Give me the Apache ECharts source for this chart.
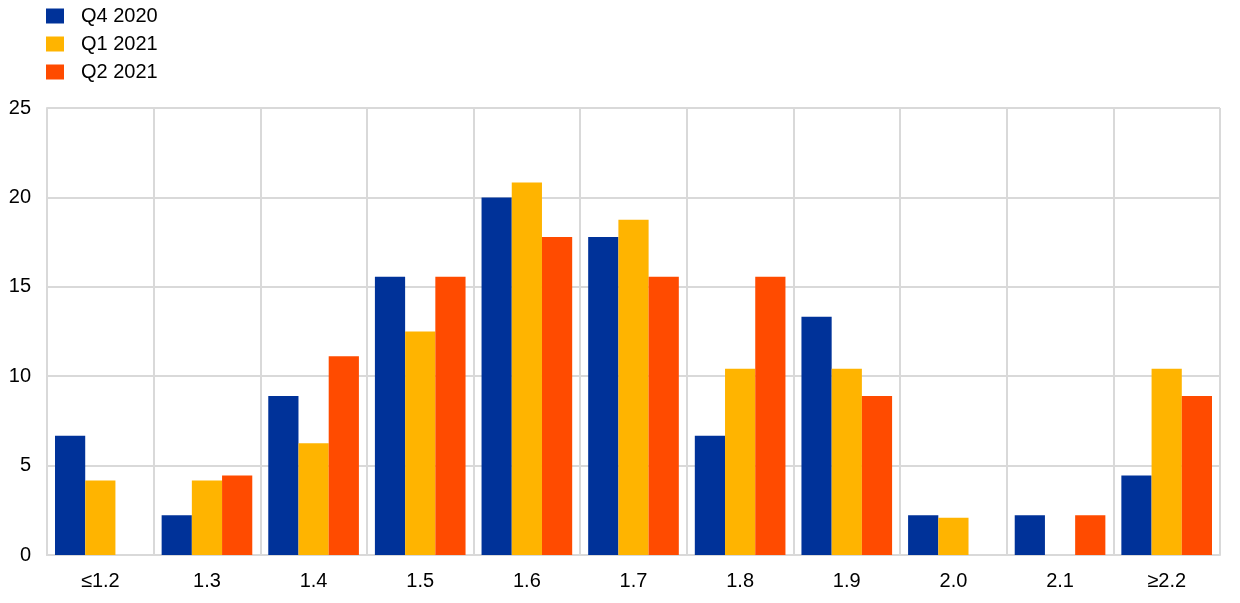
<!DOCTYPE html>
<html>
<head>
<meta charset="utf-8">
<script src="https://cdn.jsdelivr.net/npm/echarts@6/dist/echarts.min.js"></script>
<style>html,body{margin:0;padding:0;background:#fff}#c{width:1240px;height:603px}</style>
</head>
<body>
<div id="c"></div>
<script>
const categories = ['≤1.2','1.3','1.4','1.5','1.6','1.7','1.8','1.9','2.0','2.1','≥2.2'];
const seriesNames = ['Q4 2020','Q1 2021','Q2 2021'];
const q4_2020 = [6.67, 2.22, 8.89, 15.56, 20.00, 17.78, 6.67, 13.33, 2.22, 2.22, 4.44];
const q1_2021 = [4.17, 4.17, 6.25, 12.50, 20.83, 18.75, 10.42, 10.42, 2.08, 0, 10.42];
const q2_2021 = [0, 4.44, 11.11, 15.56, 17.78, 15.56, 15.56, 8.89, 0, 2.22, 8.89];
const yTicks = [0, 5, 10, 15, 20, 25];
const colors = ['#003299', '#FFB400', '#FF4B00'];
const font = 'Liberation Sans, Arial, sans-serif';
const chart = echarts.init(document.getElementById('c'));
const data = [q4_2020, q1_2021, q2_2021];
chart.setOption({
  animation: false,
  textStyle: {fontFamily: font},
  legend: {
    orient: 'vertical', left: 41, top: 1,
    itemWidth: 18, itemHeight: 15, itemGap: 8,
    icon: 'rect',
    textStyle: {fontSize: 20, color: '#000', fontFamily: font, padding: [0, 0, 0, 12]},
    data: seriesNames
  },
  grid: {left: 47, right: 20, top: 108, bottom: 48, containLabel: false},
  xAxis: {
    type: 'category', data: categories,
    axisLine: {show: true, lineStyle: {color: '#d9d9d9', width: 2}},
    axisTick: {show: false},
    splitLine: {show: true, lineStyle: {color: '#d9d9d9', width: 2}},
    axisLabel: {fontSize: 20, color: '#000', margin: 16, fontFamily: font, interval: 0}
  },
  yAxis: {
    type: 'value', min: yTicks[0], max: yTicks[yTicks.length-1], interval: 5,
    axisLine: {show: true, lineStyle: {color: '#d9d9d9', width: 2}},
    axisTick: {show: false},
    splitLine: {show: true, lineStyle: {color: '#d9d9d9', width: 2}},
    axisLabel: {fontSize: 20, color: '#000', margin: 16, fontFamily: font}
  },
  series: seriesNames.map((n, i) => ({
    name: n, type: 'bar', data: data[i],
    itemStyle: {color: colors[i]},
    barGap: '0%', barCategoryGap: '15%'
  }))
});
</script>
</body>
</html>
